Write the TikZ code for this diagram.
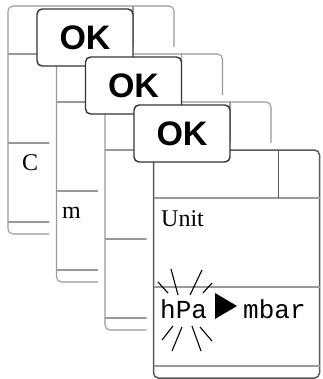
\documentclass[tikz,border=0pt]{standalone}
\usepackage{fontspec}
\usepackage{tikz}
\newfontfamily\lcdserif{Liberation Serif}
\newfontfamily\lcdmono{Liberation Mono}
\newfontfamily\keysans{Liberation Sans}

\begin{document}
\begin{tikzpicture}[
  x=1bp, y=-1bp,
  card/.style={draw=black!40, line width=1.1bp, fill=white, rounded corners=5bp,
    preaction={draw=white, line width=14bp}},
  back/.style={},
  front/.style={draw=black!65, line width=1.5bp},
  row/.style={draw=black!40, line width=1.1bp},
  okkey/.style={draw=black!80, line width=1.4bp, fill=white, rounded corners=5bp,
    minimum width=96bp, minimum height=57bp, inner sep=0,
    font=\keysans\bfseries\fontsize{34bp}{34bp}\selectfont},
  lab/.style={inner sep=0, anchor=base west, font=\lcdserif\fontsize{24bp}{26bp}\selectfont},
  mono/.style={lab, font=\lcdmono\fontsize{26bp}{28bp}\selectfont},
  ray/.style={line width=1.1bp}
]
\useasboundingbox (0,0) rectangle (323,379);
% stacked screens, each one covered by the OK key of the screen behind it
\foreach \k/\st in {0/back,1/back,2/back,3/front} {
  \begin{scope}[shift={(48.5*\k,48*\k)}]
    \draw[card,\st] (8,6) rectangle (174,234);
    \draw[row] (8,54) -- (174,54) (8,143) -- (174,143) (8,222) -- (174,222);
    \draw[row,\st] (133,6) -- (133,54);
  \end{scope}
  \ifnum\k>0
    \node[okkey] (ok\k) at (85+48.5*\k-48.5, 37.5+48*\k-48) {OK};
  \fi
}

% display texts
\node[lab] (tempc) at (22,170) {C};
\node[lab] (unitm) at (62,218) {m};
\node[lab] (unit) at (161,226) {Unit};
\node[mono] (hpa) at (160,318) {hPa};
\fill (215,293) -- (237,306) -- (215,319) -- cycle;
\node[mono] (mbar) at (243,318) {mbar};

% blinking marks round hPa
\draw[ray] (158,282) -- (168,293) (171,269) -- (178,295)
  (202,270) -- (190,295) (212,283) -- (203,293);
\draw[ray] (162,340) -- (173,326) (172,351) -- (182,327)
  (192,326) -- (201,351) (200,327) -- (212,341);
\end{tikzpicture}
\end{document}
